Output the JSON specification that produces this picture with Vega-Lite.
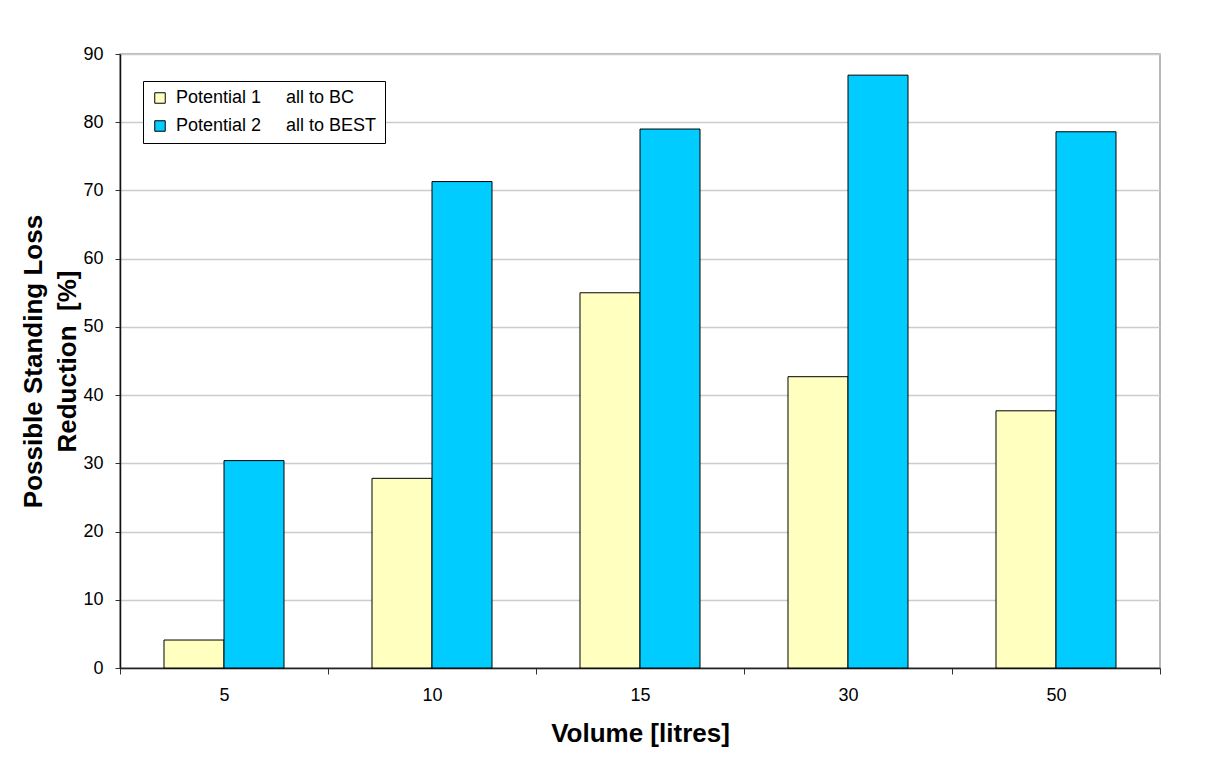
{
  "$schema": "https://vega.github.io/schema/vega-lite/v6.json",
  "width": 1040,
  "height": 614,
  "autosize": {"type": "none"},
  "padding": {"left": 120, "top": 54, "right": 57, "bottom": 90},
  "background": "white",
  "config": {
    "font": "Liberation Sans",
    "view": {"stroke": "#a0a0a0", "strokeWidth": 1.5}
  },
  "data": {
    "values": [
      {"Volume": "5", "Series": "Potential 1\u00a0\u00a0\u00a0\u00a0\u00a0all to BC", "Value": 4.1},
      {"Volume": "5", "Series": "Potential 2\u00a0\u00a0\u00a0\u00a0\u00a0all to BEST", "Value": 30.4},
      {"Volume": "10", "Series": "Potential 1\u00a0\u00a0\u00a0\u00a0\u00a0all to BC", "Value": 27.8},
      {"Volume": "10", "Series": "Potential 2\u00a0\u00a0\u00a0\u00a0\u00a0all to BEST", "Value": 71.3},
      {"Volume": "15", "Series": "Potential 1\u00a0\u00a0\u00a0\u00a0\u00a0all to BC", "Value": 55.0},
      {"Volume": "15", "Series": "Potential 2\u00a0\u00a0\u00a0\u00a0\u00a0all to BEST", "Value": 79.0},
      {"Volume": "30", "Series": "Potential 1\u00a0\u00a0\u00a0\u00a0\u00a0all to BC", "Value": 42.7},
      {"Volume": "30", "Series": "Potential 2\u00a0\u00a0\u00a0\u00a0\u00a0all to BEST", "Value": 86.9},
      {"Volume": "50", "Series": "Potential 1\u00a0\u00a0\u00a0\u00a0\u00a0all to BC", "Value": 37.7},
      {"Volume": "50", "Series": "Potential 2\u00a0\u00a0\u00a0\u00a0\u00a0all to BEST", "Value": 78.6}
    ]
  },
  "mark": {"type": "bar", "stroke": "black", "strokeWidth": 1},
  "encoding": {
    "x": {
      "field": "Volume",
      "type": "nominal",
      "sort": ["5", "10", "15", "30", "50"],
      "scale": {"paddingInner": 0, "paddingOuter": 0},
      "axis": {
        "title": "Volume [litres]",
        "titleFont": "Liberation Sans",
        "titleFontSize": 26,
        "titleFontWeight": "bold",
        "titleColor": "black",
        "titlePadding": 16,
        "labelAngle": 0,
        "labelFontSize": 18,
        "labelColor": "black",
        "labelPadding": 12,
        "tickBand": "extent",
        "tickSize": 6,
        "tickColor": "#333333",
        "domainColor": "#222222",
        "domainWidth": 1.5,
        "grid": false
      }
    },
    "xOffset": {
      "field": "Series",
      "type": "nominal",
      "scale": {"paddingInner": 0, "paddingOuter": 0.7333}
    },
    "y": {
      "field": "Value",
      "type": "quantitative",
      "scale": {"domain": [0, 90], "nice": false},
      "axis": {
        "title": ["Possible Standing Loss", "Reduction\u00a0\u00a0[%]"],
        "titleFont": "Liberation Sans",
        "titleFontSize": 26,
        "titleFontWeight": "bold",
        "titleColor": "black",
        "titleLineHeight": 34,
        "titlePadding": 2,
        "values": [0, 10, 20, 30, 40, 50, 60, 70, 80, 90],
        "labelFontSize": 18,
        "labelColor": "black",
        "labelPadding": 12,
        "tickSize": 5,
        "tickColor": "#333333",
        "domainColor": "#111111",
        "domainWidth": 1.5,
        "gridColor": "#cccccc",
        "gridWidth": 1.5
      }
    },
    "fill": {
      "field": "Series",
      "type": "nominal",
      "scale": {"range": ["#ffffc0", "#00ccff"]},
      "legend": {
        "title": null,
        "orient": "none",
        "legendX": 23,
        "legendY": 27,
        "direction": "vertical",
        "fillColor": "white",
        "strokeColor": "black",
        "padding": 8,
        "rowPadding": 10,
        "symbolType": "square",
        "symbolSize": 110,
        "symbolStrokeColor": "black",
        "symbolStrokeWidth": 1,
        "symbolOpacity": 1,
        "labelFontSize": 18,
        "labelColor": "black",
        "labelOffset": 7,
        "labelLimit": 400
      }
    }
  }
}
